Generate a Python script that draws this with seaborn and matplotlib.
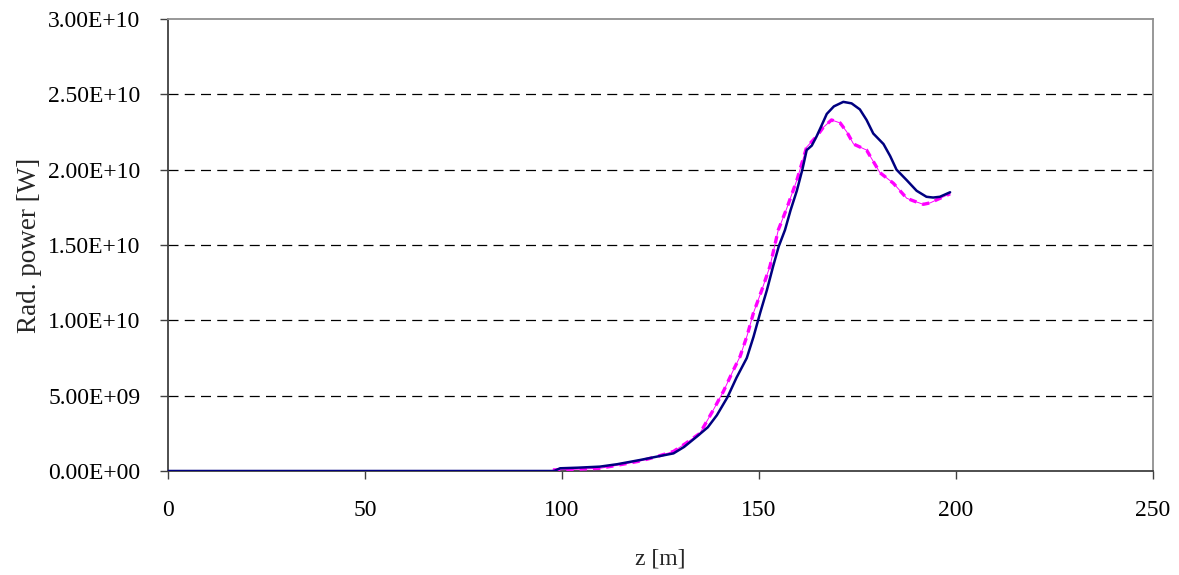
import numpy as np
import pandas as pd
import matplotlib
matplotlib.use("Agg")
import matplotlib.pyplot as plt
import seaborn as sns

# Blue series (solid)
z_blue = [0, 50, 98, 99.5, 104, 109.6, 114, 119.8, 124, 128.3, 131, 134.2, 137, 139.3, 142, 144.3,
          146.9, 148.6, 150.3, 152, 153.6, 155, 156.6, 158, 159.6, 161, 162.1, 163.4, 164.6, 166,
          167.2, 169, 171.4, 173.5, 175.6, 177.3, 179, 181.6, 183.3, 184.9, 187.5, 190, 192.5,
          194.2, 195.9, 197.2, 198.5]
p_blue = [0, 0, 0, 0.18, 0.22, 0.29, 0.45, 0.73, 0.95, 1.17, 1.6, 2.28, 2.9, 3.7, 4.9, 6.2,
          7.5, 8.9, 10.5, 12.0, 13.6, 14.9, 16.0, 17.3, 18.6, 20.0, 21.3, 21.6, 22.2, 23.0,
          23.7, 24.2, 24.5, 24.4, 24.0, 23.3, 22.4, 21.7, 20.9, 20.0, 19.3, 18.6, 18.2,
          18.15, 18.2, 18.35, 18.5]

# Magenta series (dotted)
z_mag = [97.7, 104, 109.6, 114, 119.8, 124, 128.3, 131.5, 135, 138.4, 141, 143.5, 145.2, 147,
         148.6, 150.7, 152.8, 154.9, 157, 159.6, 162.1, 164.6, 166.3, 168.4, 170.6, 172.3, 174,
         177.3, 180.7, 184.1, 187.5, 189.5, 191.7, 193.5, 195.1, 196.8, 198.5]
p_mag = [0.07, 0.12, 0.18, 0.38, 0.66, 0.95, 1.3, 1.85, 2.5, 4.05, 5.3, 6.7, 7.6, 9.0,
         10.5, 12.0, 13.6, 16.0, 17.4, 19.3, 21.5, 22.2, 22.8, 23.3, 23.1, 22.5, 21.7,
         21.3, 19.8, 19.1, 18.1, 17.9, 17.7, 17.8, 18.0, 18.2, 18.4]

y_ticks = [0, 5, 10, 15, 20, 25, 30]
y_tick_labels = ["0.00E+00", "5.00E+09", "1.00E+10", "1.50E+10", "2.00E+10", "2.50E+10", "3.00E+10"]
x_ticks = [0, 50, 100, 150, 200, 250]

sns.set_style("white")
plt.rcParams['font.family'] = ['Liberation Serif', 'DejaVu Serif']

fig = plt.figure(figsize=(11.79, 5.75), dpi=100)
ax = fig.add_axes([168/1179, 1-471/575, (1153-168)/1179, (471-19)/575])

df_b = pd.DataFrame({"z": z_blue, "p": np.array(p_blue) * 1e9})
df_m = pd.DataFrame({"z": z_mag, "p": np.array(p_mag) * 1e9})

for yv in y_ticks[1:-1]:
    ax.axhline(yv * 1e9, color="black", lw=0.9, ls=(0, (8, 5)), zorder=1)

sns.lineplot(data=df_m, x="z", y="p", ax=ax, color="#FF00FF", lw=0.7, zorder=3)
sns.lineplot(data=df_m, x="z", y="p", ax=ax, color="#FF00FF", lw=2.4, ls=(0, (2.2, 1.8)), zorder=3)
sns.lineplot(data=df_b, x="z", y="p", ax=ax, color="#000080", lw=1.8, zorder=4)

ax.set_xlim(0, 250)
ax.set_ylim(0, 3e10)
ax.set_xticks(x_ticks)
ax.set_xticklabels([str(v) for v in x_ticks], fontsize=17)
ax.set_yticks([v * 1e9 for v in y_ticks])
ax.set_yticklabels(y_tick_labels, fontsize=17)
ax.tick_params(axis="both", direction="out", length=6, width=1, colors="#404040",
               labelcolor="black", left=True, bottom=True)
ax.tick_params(axis="x", pad=15)
ax.tick_params(axis="y", pad=14)

for s in ["left", "bottom"]:
    ax.spines[s].set_color("#404040")
    ax.spines[s].set_linewidth(1.3)
for s in ["top", "right"]:
    ax.spines[s].set_visible(True)
    ax.spines[s].set_color("#909090")
    ax.spines[s].set_linewidth(1.3)

ax.set_xlabel("z [m]", fontsize=17, labelpad=20)
ax.set_ylabel("Rad. power [W]", fontsize=19.5, labelpad=4)
ax.grid(False)

fig.savefig("out.png", dpi=100)
